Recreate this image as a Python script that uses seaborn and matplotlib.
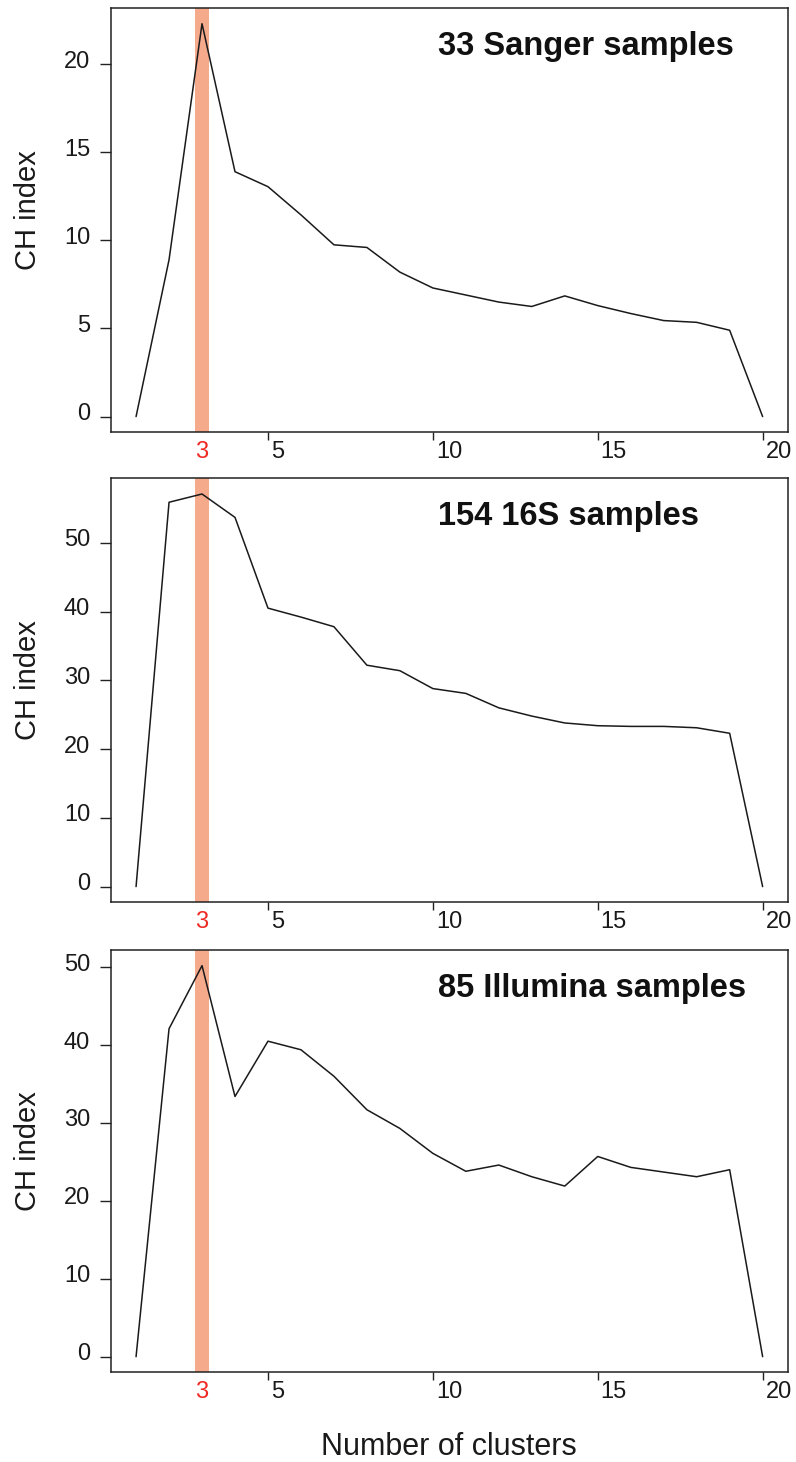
import numpy as np
import pandas as pd
import matplotlib
matplotlib.use("Agg")
import matplotlib.pyplot as plt
import seaborn as sns
from matplotlib.transforms import ScaledTranslation

sns.set_style("white")
plt.rcParams["font.family"] = ["Liberation Sans", "DejaVu Sans"]
plt.rcParams["xtick.major.size"] = 6
plt.rcParams["ytick.major.size"] = 8

# ---- data ----
clusters = list(range(1, 21))
sanger_ch = [0, 8.9, 22.3, 13.9, 13.05, 11.45, 9.75, 9.6, 8.2, 7.3,
             6.9, 6.5, 6.25, 6.85, 6.3, 5.85, 5.45, 5.35, 4.9, 0]
s16_ch = [0, 55.9, 57.1, 53.7, 40.5, 39.2, 37.8, 32.2, 31.4, 28.8,
          28.1, 26.0, 24.8, 23.8, 23.4, 23.3, 23.3, 23.1, 22.3, 0]
illumina_ch = [0, 42.1, 50.2, 33.4, 40.5, 39.4, 36.0, 31.7, 29.3, 26.1,
               23.8, 24.6, 23.1, 21.9, 25.7, 24.3, 23.7, 23.1, 24.0, 0]
titles = ["33 Sanger samples", "154 16S samples", "85 Illumina samples"]
series = [sanger_ch, s16_ch, illumina_ch]
yticks_list = [[0, 5, 10, 15, 20], [0, 10, 20, 30, 40, 50], [0, 10, 20, 30, 40, 50]]
xtick_vals = [3, 5, 10, 15, 20]
best_k = 3

# ---- figure ----
W, H = 796, 1462
fig = plt.figure(figsize=(W / 100, H / 100), dpi=100)
left_px, right_px = 111, 787.7
panel_px = [(8, 432.3), (478.3, 902.3), (950, 1372.3)]

band_color = "#F6AA8C"
red = "#EE2A24"
ink = "#1a1a1a"

axes = []
for i, ((top, bot), vals, title, yt) in enumerate(zip(panel_px, series, titles, yticks_list)):
    ax = fig.add_axes([left_px / W, 1 - bot / H, (right_px - left_px) / W, (bot - top) / H])
    axes.append(ax)
    df = pd.DataFrame({"k": clusters, "ch": vals})
    ax.axvspan(best_k - 0.21, best_k + 0.21, color=band_color, lw=0, zorder=1)
    sns.lineplot(data=df, x="k", y="ch", ax=ax, color=ink, lw=1.1, zorder=3)

    xr = max(clusters) - min(clusters)
    ax.set_xlim(min(clusters) - 0.04 * xr, max(clusters) + 0.04 * xr)
    yr = max(vals) - min(vals)
    ax.set_ylim(min(vals) - 0.04 * yr, max(vals) + 0.04 * yr)

    ax.set_xlabel("")
    ax.set_ylabel("CH index", fontsize=21, va="center", ha="center", color="#1a1a1a")
    ax.yaxis.set_label_coords((27.5 - left_px) / (right_px - left_px), 0.523)

    ax.set_yticks(yt)
    ax.set_yticklabels([str(v) for v in yt])
    ax.set_xticks(xtick_vals)
    ax.set_xticklabels([str(v) for v in xtick_vals])

    for s in ax.spines.values():
        s.set_linewidth(1.1)
        s.set_color("#222222")
        s.set_visible(True)

    ax.tick_params(axis="both", direction="out", width=1.0, color="#222222",
                   labelsize=17, labelcolor="#1a1a1a")
    ax.tick_params(axis="x", length=6, pad=0.5, bottom=True)
    ax.tick_params(axis="y", length=8, pad=7, left=True)

    ax.text(0.483, 1 - 47 / (bot - top), title, transform=ax.transAxes,
            ha="left", va="baseline", fontsize=23.5, fontweight="bold", color="#111111")

    # tick label styling
    for tick, v in zip(ax.xaxis.get_major_ticks(), xtick_vals):
        lbl = tick.label1
        if v == best_k:
            tick.tick1line.set_visible(False)
            lbl.set_color(red)
            lbl.set_ha("center")
        else:
            lbl.set_ha("left")
            lbl.set_transform(lbl.get_transform() + ScaledTranslation(0.03, 0, fig.dpi_scale_trans))
    for lbl in ax.get_yticklabels():
        lbl.set_transform(lbl.get_transform() + ScaledTranslation(0, 0.05, fig.dpi_scale_trans))

xl = axes[-1].set_xlabel("Number of clusters", fontsize=22, va="baseline", color="#1a1a1a")
axes[-1].xaxis.set_label_coords(0.5, (1372.3 - 1455) / (1372.3 - 950))

fig.savefig("out.png", dpi=100)
